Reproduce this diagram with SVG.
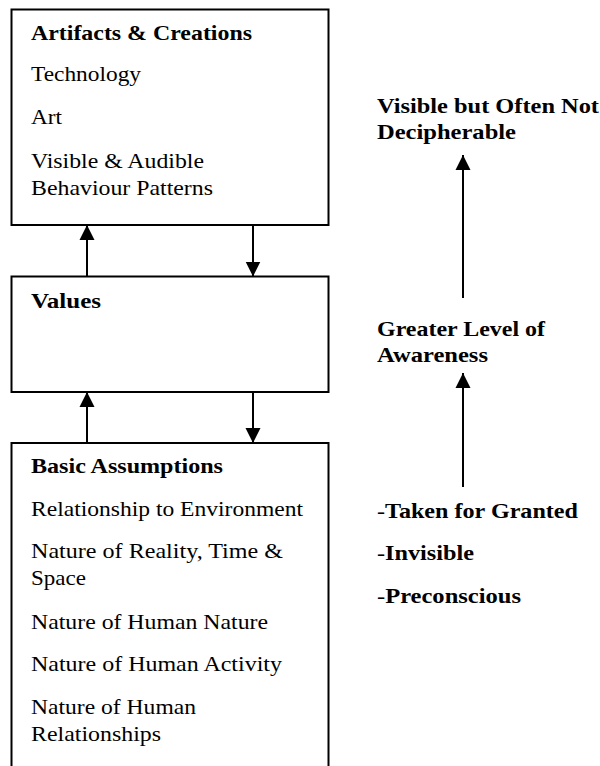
<svg xmlns="http://www.w3.org/2000/svg" width="600" height="766" viewBox="0 0 600 766">
<defs>
<style>
.box{fill:#fff;stroke:#000;stroke-width:2}
.t{font-family:'Liberation Serif','Times New Roman',Times,serif;font-size:22px;fill:#000}
.b{font-weight:bold}
.n{font-weight:normal}
.c{stroke:#000;stroke-width:2;fill:none;marker-end:url(#ah)}
</style>
<marker id="ah" markerUnits="userSpaceOnUse" markerWidth="16" markerHeight="16" viewBox="0 0 16 16" refX="15" refY="8" orient="auto">
<path d="M0,0.5 L15,8 L0,15.5 Z" fill="#000"/>
</marker>
</defs>
<rect width="600" height="766" fill="#fff"/>
<g id="artifacts">
<rect class="box" x="11.5" y="9.5" width="317" height="215.5"/>
<text class="t b" x="31" y="40" textLength="221" lengthAdjust="spacingAndGlyphs">Artifacts &amp; Creations</text>
<text class="t" x="31" y="81" textLength="110" lengthAdjust="spacingAndGlyphs">Technology</text>
<text class="t" x="31" y="124" textLength="31" lengthAdjust="spacingAndGlyphs">Art</text>
<text class="t" x="31" y="168" textLength="173" lengthAdjust="spacingAndGlyphs">Visible &amp; Audible</text>
<text class="t" x="31" y="195" textLength="182" lengthAdjust="spacingAndGlyphs">Behaviour Patterns</text>
</g>
<g id="values">
<rect class="box" x="11.5" y="276.5" width="317" height="115.5"/>
<text class="t b" x="31" y="308" textLength="70" lengthAdjust="spacingAndGlyphs">Values</text>
</g>
<g id="assumptions">
<rect class="box" x="11.5" y="443" width="317" height="340"/>
<text class="t b" x="31" y="473" textLength="192" lengthAdjust="spacingAndGlyphs">Basic Assumptions</text>
<text class="t" x="31" y="516" textLength="272" lengthAdjust="spacingAndGlyphs">Relationship to Environment</text>
<text class="t" x="31" y="558" textLength="252" lengthAdjust="spacingAndGlyphs">Nature of Reality, Time &amp;</text>
<text class="t" x="31" y="585" textLength="55" lengthAdjust="spacingAndGlyphs">Space</text>
<text class="t" x="31" y="629" textLength="237" lengthAdjust="spacingAndGlyphs">Nature of Human Nature</text>
<text class="t" x="31" y="671" textLength="251" lengthAdjust="spacingAndGlyphs">Nature of Human Activity</text>
<text class="t" x="31" y="714" textLength="165" lengthAdjust="spacingAndGlyphs">Nature of Human</text>
<text class="t" x="31" y="741" textLength="130" lengthAdjust="spacingAndGlyphs">Relationships</text>
</g>
<g id="visible">
<text class="t b" x="377" y="113" textLength="222" lengthAdjust="spacingAndGlyphs">Visible but Often Not</text>
<text class="t b" x="377" y="139" textLength="139" lengthAdjust="spacingAndGlyphs">Decipherable</text>
</g>
<g id="awareness">
<text class="t b" x="377" y="336" textLength="168" lengthAdjust="spacingAndGlyphs">Greater Level of</text>
<text class="t b" x="377" y="362" textLength="111" lengthAdjust="spacingAndGlyphs">Awareness</text>
</g>
<g id="preconscious">
<text class="t b" x="377" y="518" textLength="201" lengthAdjust="spacingAndGlyphs"><tspan class="n">-</tspan>Taken for Granted</text>
<text class="t b" x="377" y="560" textLength="97" lengthAdjust="spacingAndGlyphs"><tspan class="n">-</tspan>Invisible</text>
<text class="t b" x="377" y="603" textLength="144" lengthAdjust="spacingAndGlyphs"><tspan class="n">-</tspan>Preconscious</text>
</g>
<g id="connectors">
<line class="c" x1="87" y1="276.5" x2="87" y2="225"/>
<line class="c" x1="253" y1="225" x2="253" y2="276.5"/>
<line class="c" x1="87" y1="443" x2="87" y2="392"/>
<line class="c" x1="253" y1="392" x2="253" y2="443"/>
<line class="c" x1="463" y1="298" x2="463" y2="155"/>
<line class="c" x1="463" y1="487" x2="463" y2="373"/>
</g>
</svg>
